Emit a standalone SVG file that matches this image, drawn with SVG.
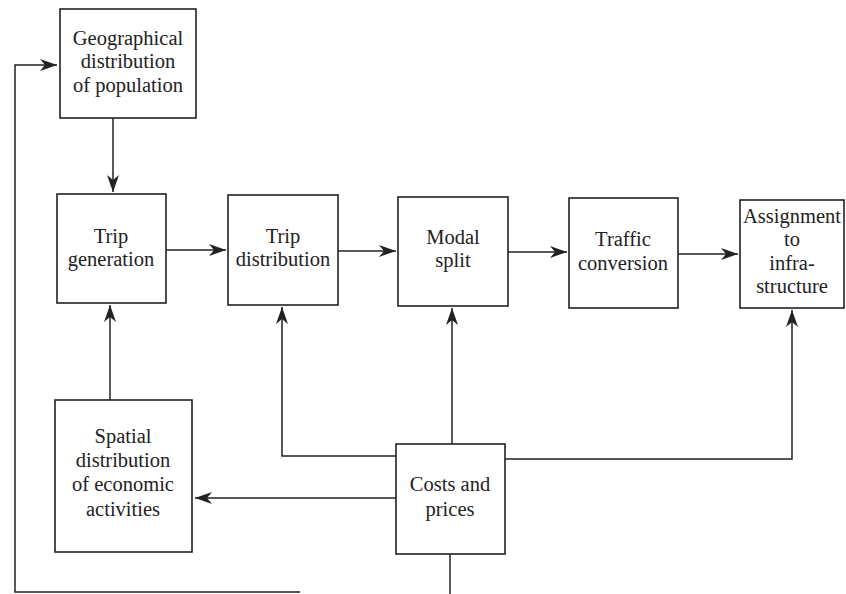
<svg xmlns="http://www.w3.org/2000/svg" width="846" height="594" viewBox="0 0 846 594">
<defs>
<style>
.box{fill:#fff;stroke:#222;stroke-width:1.6}
.lbl{font-family:"Liberation Serif","Times New Roman",serif;font-size:20.5px;fill:#222;text-anchor:middle}
.con{fill:none;stroke:#222;stroke-width:1.5}
</style>
<marker id="ah" markerUnits="userSpaceOnUse" markerWidth="18" markerHeight="12" refX="17" refY="6" orient="auto">
<path d="M0,0 L17,6 L0,12 L5,6 z" fill="#222"/>
</marker>
</defs>
<rect width="846" height="594" fill="#fff"/>
<g id="connectors">
<path class="con" d="M113,118 V192" marker-end="url(#ah)"/>
<path class="con" d="M300,592 H15 V65 H57" marker-end="url(#ah)"/>
<path class="con" d="M166,250 H226" marker-end="url(#ah)"/>
<path class="con" d="M338,251 H396" marker-end="url(#ah)"/>
<path class="con" d="M508,252 H567" marker-end="url(#ah)"/>
<path class="con" d="M678,254 H738" marker-end="url(#ah)"/>
<path class="con" d="M110,400 V305" marker-end="url(#ah)"/>
<path class="con" d="M396,498 H195" marker-end="url(#ah)"/>
<path class="con" d="M396,456 H282 V307" marker-end="url(#ah)"/>
<path class="con" d="M452,444 V308" marker-end="url(#ah)"/>
<path class="con" d="M505,459 H792 V310" marker-end="url(#ah)"/>
<path class="con" d="M450,554 V594"/>
</g>
<g id="geo">
<rect class="box" x="60" y="9" width="136" height="109"/>
<text class="lbl" x="128" y="45">Geographical</text>
<text class="lbl" x="128" y="68">distribution</text>
<text class="lbl" x="128" y="92">of population</text>
</g>
<g id="tripgen">
<rect class="box" x="57" y="194" width="109" height="109"/>
<text class="lbl" x="111" y="243">Trip</text>
<text class="lbl" x="111" y="266">generation</text>
</g>
<g id="tripdist">
<rect class="box" x="228" y="195" width="110" height="110"/>
<text class="lbl" x="283" y="243">Trip</text>
<text class="lbl" x="283" y="266">distribution</text>
</g>
<g id="modal">
<rect class="box" x="398" y="197" width="110" height="109"/>
<text class="lbl" x="453" y="244">Modal</text>
<text class="lbl" x="453" y="267">split</text>
</g>
<g id="traffic">
<rect class="box" x="569" y="198" width="109" height="110"/>
<text class="lbl" x="623" y="246">Traffic</text>
<text class="lbl" x="623" y="270">conversion</text>
</g>
<g id="assign">
<rect class="box" x="740" y="200" width="104" height="108"/>
<text class="lbl" x="792" y="223">Assignment</text>
<text class="lbl" x="792" y="246">to</text>
<text class="lbl" x="792" y="270">infra-</text>
<text class="lbl" x="792" y="293">structure</text>
</g>
<g id="spatial">
<rect class="box" x="55" y="400" width="137" height="152"/>
<text class="lbl" x="123" y="443">Spatial</text>
<text class="lbl" x="123" y="467">distribution</text>
<text class="lbl" x="123" y="491">of economic</text>
<text class="lbl" x="123" y="516">activities</text>
</g>
<g id="costs">
<rect class="box" x="396" y="444" width="109" height="110"/>
<text class="lbl" x="450" y="491">Costs and</text>
<text class="lbl" x="450" y="516">prices</text>
</g>
</svg>
